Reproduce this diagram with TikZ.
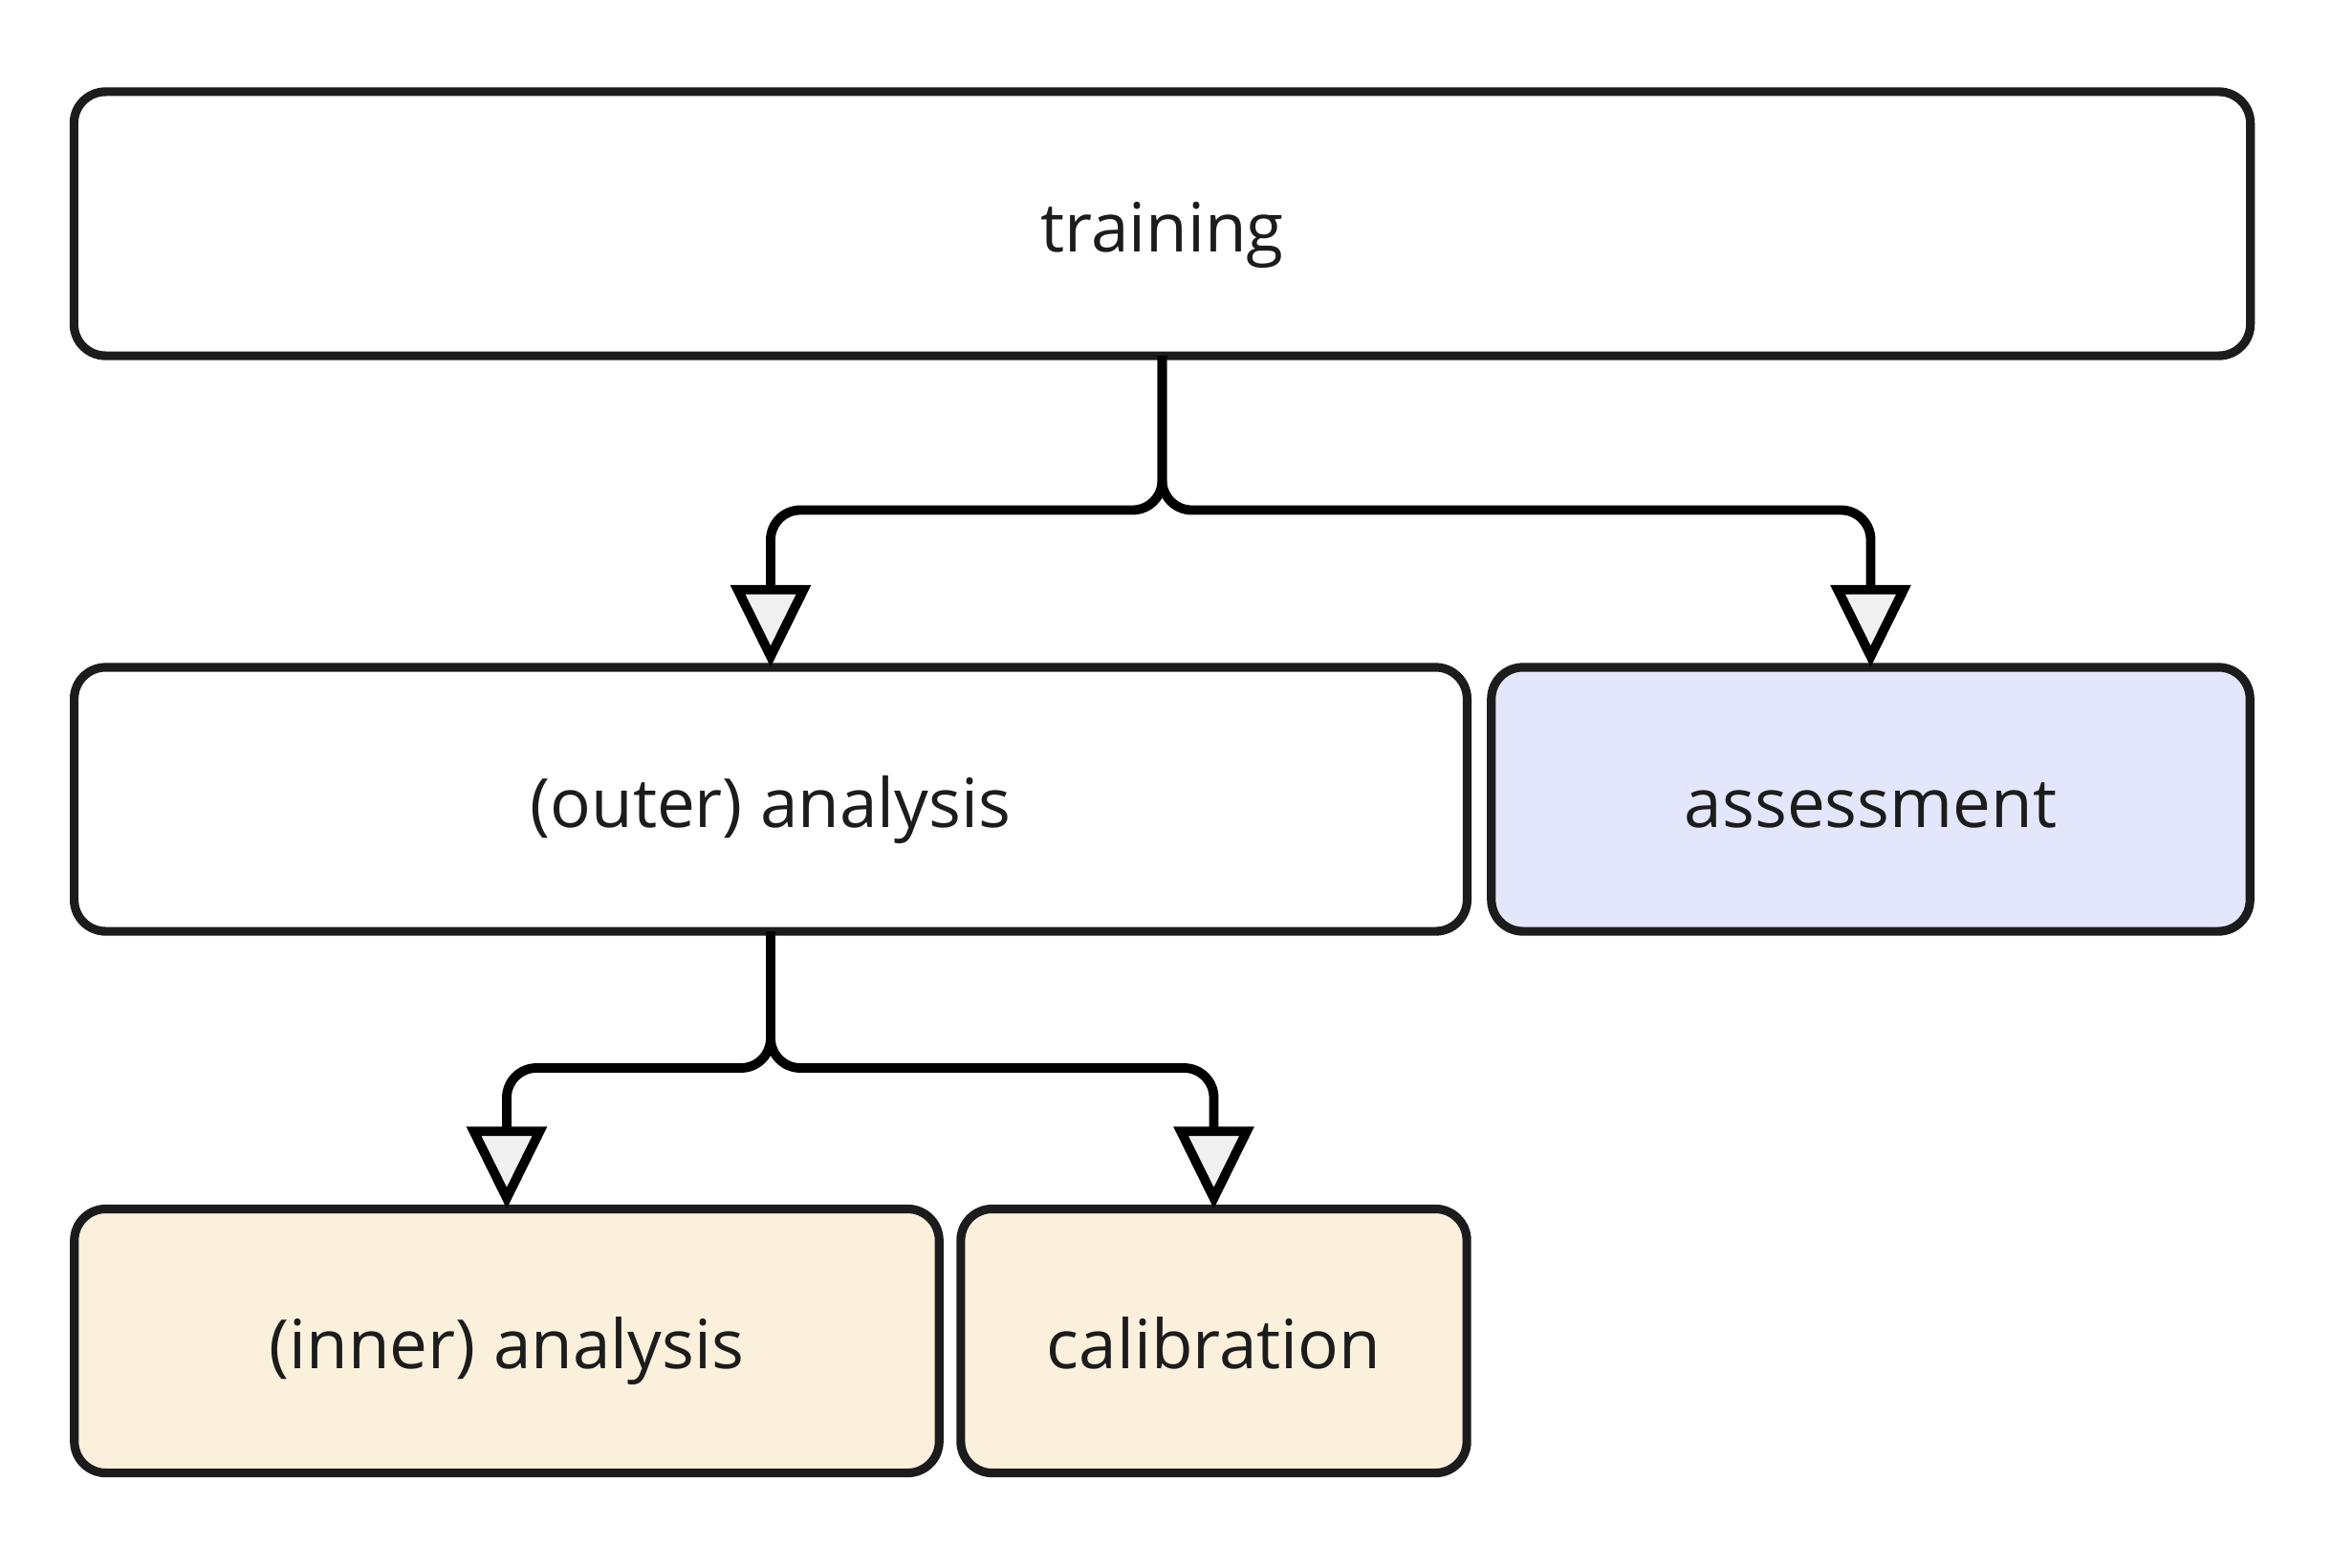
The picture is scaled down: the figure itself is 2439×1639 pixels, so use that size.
\documentclass[tikz,border=0pt]{standalone}
\usepackage{fontspec}
\setmainfont{Open Sans}
\usetikzlibrary{arrows.meta}
\definecolor{strokec}{HTML}{1C1C1C}
\definecolor{lav}{HTML}{E4E6FB}
\definecolor{cream}{HTML}{FBF0DC}
\definecolor{tipfill}{HTML}{F0F0F0}
\tikzset{
  box/.style={draw=strokec, line width=2.6pt, rounded corners=0.33cm, minimum height=2.76cm,
    inner sep=0pt, outer sep=0pt, font=\fontsize{20.2}{24}\selectfont, text=strokec,
    text height=0.73cm, text depth=0.15cm},
  conn/.style={draw=black, line width=2.8pt, rounded corners=0.31cm,
    -{Triangle[length=0.86cm, width=0.82cm, fill=tipfill, line width=2.8pt]}}
}
\begin{document}
\begin{tikzpicture}[x=0.01cm, y=-0.01cm]
\fill[white] (0,0) rectangle (2439,1639);
\useasboundingbox (0,0) rectangle (2439,1639);
\node[box, minimum width=22.75cm] (training) at (1215.5,234) {training};
\node[box, minimum width=14.56cm] (outer) at (806,836) {(outer) analysis};
\node[box, minimum width=7.93cm, fill=lav] (assess) at (1956.5,836) {assessment};
\node[box, minimum width=9.04cm, fill=cream] (inner) at (530,1402.5) {(inner) analysis};
\node[box, minimum width=5.29cm, fill=cream] (calib) at (1269.5,1402.5) {calibration};
\draw[conn] (training.south) |- (1000,533.5) -| (outer.north);
\draw[conn] (training.south) |- (1500,533.5) -| (assess.north);
\draw[conn] (outer.south) |- (700,1117) -| (inner.north);
\draw[conn] (outer.south) |- (1000,1117) -| (calib.north);
\end{tikzpicture}
\end{document}
